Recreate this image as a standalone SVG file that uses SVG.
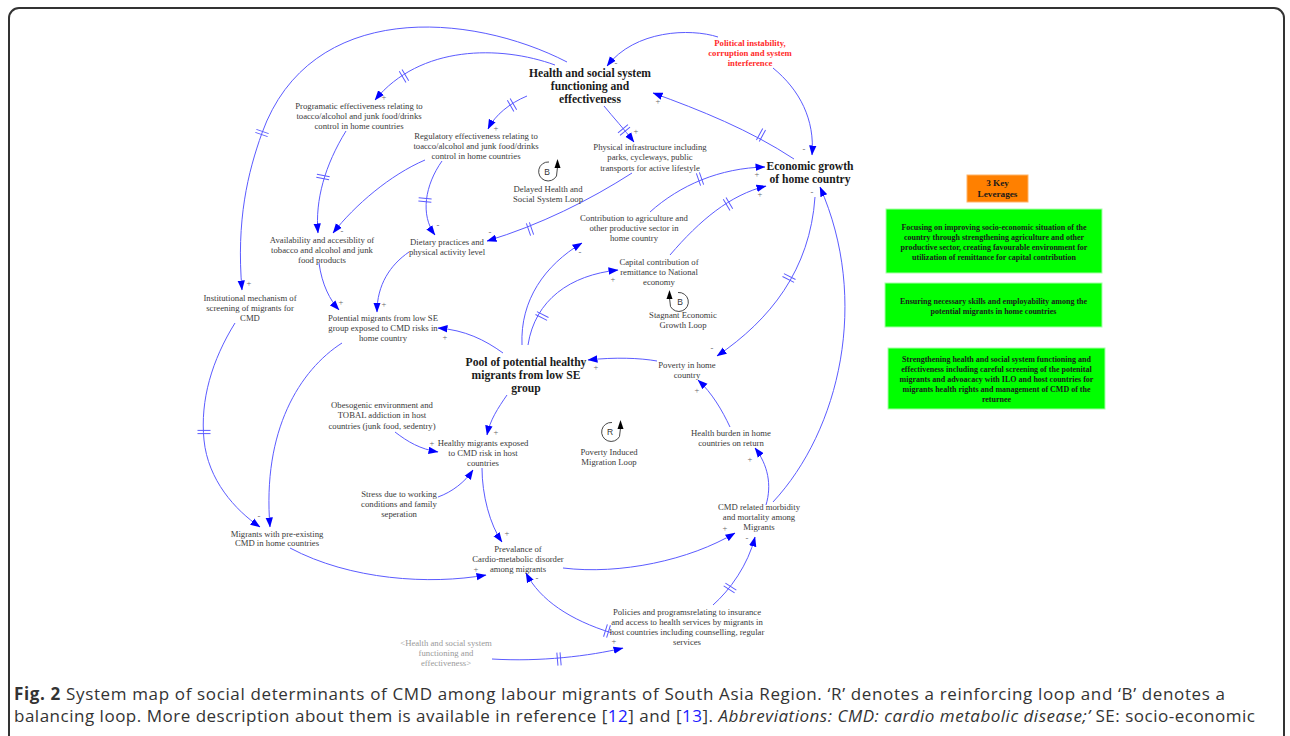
<svg xmlns="http://www.w3.org/2000/svg" xmlns:xlink="http://www.w3.org/1999/xlink" width="1290" height="736" viewBox="0 0 1290 736">
<style>
.ln{fill:none;stroke:#5b5bff;stroke-width:1;marker-end:url(#ah)}
.t{font-family:"Liberation Serif","Times New Roman",serif;font-size:8.7px;fill:#3a3a3a;text-anchor:middle}
.tb{font-family:"Liberation Serif","Times New Roman",serif;font-weight:bold;font-size:11.6px;fill:#1a1a1a;text-anchor:middle}
.tr{font-family:"Liberation Serif","Times New Roman",serif;font-weight:bold;font-size:8.7px;fill:#ff2a2a;text-anchor:middle}
.tg{font-family:"Liberation Serif","Times New Roman",serif;font-size:8.7px;fill:#9a9a9a;text-anchor:middle}
.tl{font-family:"Liberation Serif","Times New Roman",serif;font-weight:bold;font-size:8px;fill:#1a1a1a;text-anchor:middle}
.pol{font-family:"Liberation Serif","Times New Roman",serif;font-size:8.5px;fill:#666;text-anchor:middle}
.loop{fill:none;stroke:#333;stroke-width:0.9}
.lh{fill:#000}
.lt{font-family:"Liberation Sans",Arial,sans-serif;font-size:8.5px;fill:#333;text-anchor:middle}
.cap{font-family:"Open Sans","Noto Sans",sans-serif;font-size:17px;fill:#333}
</style>
<defs>
<marker id="ah" viewBox="0 0 10 8" refX="9.5" refY="4" markerWidth="10" markerHeight="8" markerUnits="userSpaceOnUse" orient="auto">
<path d="M0,0.3 L10,4 L0,7.7 z" fill="#0000ff"/>
</marker>
<path id="dl" d="M-1.6,-6.5 V6.5 M1.6,-6.5 V6.5" stroke="#5b5bff" stroke-width="1" fill="none"/>
</defs>
<rect x="9" y="8" width="1275" height="790" rx="10" fill="#fff" stroke="#333" stroke-width="2"/>

<g id="connectors">
<path class="ln" d="M567,62 C470,12 310,0 262,133 C248,172 236,220 242,290"/>
<path class="ln" d="M555,65 C500,45 420,45 375,100"/>
<path class="ln" d="M527,96 C510,103 495,115 488,129"/>
<path class="ln" d="M604,106 C613,117 624,129 634,142"/>
<path class="ln" d="M718,37 C690,28 635,30 607,66"/>
<path class="ln" d="M773,68 C800,90 815,120 812,155"/>
<path class="ln" d="M794,159 C750,130 700,110 653,93"/>
<path class="ln" d="M522,345 C520,300 545,265 582,243"/>
<path class="ln" d="M650,212 C680,185 720,168 765,167"/>
<path class="ln" d="M528,345 C535,300 570,275 618,270"/>
<path class="ln" d="M670,255 C700,220 730,195 766,186"/>
<path class="ln" d="M815,197 C810,270 770,320 717,356"/>
<path class="ln" d="M657,361 C640,358 615,357 588,360"/>
<path class="ln" d="M730,427 C722,410 712,393 698,380"/>
<path class="ln" d="M766,505 C772,485 768,465 755,448"/>
<path class="ln" d="M773,502 C840,430 870,300 820,187"/>
<path class="ln" d="M503,353 C485,340 465,330 438,328"/>
<path class="ln" d="M507,395 C498,408 490,420 487,435"/>
<path class="ln" d="M395,432 C408,442 420,449 438,452"/>
<path class="ln" d="M438,497 C452,492 465,482 473,470"/>
<path class="ln" d="M482,468 C482,495 490,525 502,542"/>
<path class="ln" d="M563,568 C620,575 690,560 735,533"/>
<path class="ln" d="M713,605 C730,590 748,565 755,537"/>
<path class="ln" d="M612,633 C570,620 540,600 526,573"/>
<path class="ln" d="M492,659 C540,662 590,656 623,648"/>
<path class="ln" d="M290,548 C350,580 430,585 486,575"/>
<path class="ln" d="M235,323 C212,360 200,400 204,440 C208,480 235,510 260,527"/>
<path class="ln" d="M342,343 C300,370 262,430 270,527"/>
<path class="ln" d="M425,160 C390,175 355,205 333,233"/>
<path class="ln" d="M346,131 C325,165 315,200 318,233"/>
<path class="ln" d="M442,161 C425,185 420,215 435,235"/>
<path class="ln" d="M632,173 C590,200 540,225 487,241"/>
<path class="ln" d="M319,263 C322,285 330,300 339,310"/>
<path class="ln" d="M409,252 C390,265 377,285 377,312"/>

<use xlink:href="#dl" transform="translate(262,133) rotate(109)"/>
<use xlink:href="#dl" transform="translate(404,76) rotate(149)"/>
<use xlink:href="#dl" transform="translate(512,105) rotate(150)"/>
<use xlink:href="#dl" transform="translate(624,130) rotate(50)"/>
<use xlink:href="#dl" transform="translate(761,135) rotate(209)"/>
<use xlink:href="#dl" transform="translate(700,179) rotate(-19)"/>
<use xlink:href="#dl" transform="translate(542,316) rotate(-63)"/>
<use xlink:href="#dl" transform="translate(728,204) rotate(-31)"/>
<use xlink:href="#dl" transform="translate(789,278) rotate(117)"/>
<use xlink:href="#dl" transform="translate(730,588) rotate(-57)"/>
<use xlink:href="#dl" transform="translate(607,631) rotate(197)"/>
<use xlink:href="#dl" transform="translate(559,659) rotate(-5)"/>
<use xlink:href="#dl" transform="translate(204,432) rotate(90)"/>
<use xlink:href="#dl" transform="translate(323,177) rotate(101)"/>
<use xlink:href="#dl" transform="translate(425,200) rotate(95)"/>
<use xlink:href="#dl" transform="translate(530,229) rotate(161)"/>

<text class="pol" x="249" y="286">+</text>
<text class="pol" x="384" y="100">+</text>
<text class="pol" x="496" y="131">+</text>
<text class="pol" x="636" y="134">+</text>
<text class="pol" x="616" y="66">-</text>
<text class="pol" x="804" y="152">-</text>
<text class="pol" x="658" y="104">+</text>
<text class="pol" x="580" y="255">-</text>
<text class="pol" x="757" y="177">+</text>
<text class="pol" x="613" y="282">+</text>
<text class="pol" x="760" y="197">+</text>
<text class="pol" x="712" y="351">-</text>
<text class="pol" x="596" y="370">+</text>
<text class="pol" x="697" y="393">+</text>
<text class="pol" x="750" y="462">+</text>
<text class="pol" x="812" y="195">-</text>
<text class="pol" x="445" y="340">+</text>
<text class="pol" x="496" y="435">+</text>
<text class="pol" x="432" y="446">+</text>
<text class="pol" x="507" y="536">+</text>
<text class="pol" x="725" y="531">+</text>
<text class="pol" x="747" y="541">-</text>
<text class="pol" x="537" y="581">-</text>
<text class="pol" x="614" y="644">+</text>
<text class="pol" x="476" y="572">+</text>
<text class="pol" x="259" y="519">-</text>
<text class="pol" x="342" y="234">-</text>
<text class="pol" x="438" y="228">-</text>
<text class="pol" x="490" y="235">-</text>
<text class="pol" x="341" y="305">+</text>
<text class="pol" x="384" y="307">+</text>
</g>

<g id="n-health"><text class="tb"><tspan x="590" y="77">Health and social system</tspan><tspan x="590" y="90">functioning and</tspan><tspan x="590" y="103">effectiveness</tspan></text></g>
<g id="n-political"><text class="tr"><tspan x="750" y="46">Political instability,</tspan><tspan x="750" y="56">corruption and system</tspan><tspan x="750" y="66">interference</tspan></text></g>
<g id="n-econ"><text class="tb"><tspan x="810" y="170">Economic growth</tspan><tspan x="810" y="183">of home country</tspan></text></g>
<g id="n-prog"><text class="t"><tspan x="359" y="109">Programatic effectiveness relating to</tspan><tspan x="359" y="119">toacco/alcohol and junk food/drinks</tspan><tspan x="359" y="129">control in home countries</tspan></text></g>
<g id="n-reg"><text class="t"><tspan x="476" y="139">Regulatory effectiveness relating to</tspan><tspan x="476" y="149">toacco/alcohol and junk food/drinks</tspan><tspan x="476" y="159">control in home countries</tspan></text></g>
<g id="n-phys"><text class="t"><tspan x="650" y="150">Physical infrastructure including</tspan><tspan x="650" y="160">parks, cycleways, public</tspan><tspan x="650" y="171">transports for active lifestyle</tspan></text></g>
<g id="loop-b1">
<path class="loop" d="M549,162 A9.5 9.5 0 1 0 556.5,176 L557.5,167"/>
<path class="lh" d="M554.5,168 L557.5,159 L560.5,168 z"/>
<text class="lt" x="547" y="175">B</text>
<text class="t"><tspan x="548" y="192">Delayed Health and</tspan><tspan x="548" y="202">Social System Loop</tspan></text>
</g>
<g id="n-contrib"><text class="t"><tspan x="634" y="221">Contribution to agriculture and</tspan><tspan x="634" y="231">other productive sector in</tspan><tspan x="634" y="241">home country</tspan></text></g>
<g id="n-capital"><text class="t"><tspan x="659" y="265">Capital contribution of</tspan><tspan x="659" y="275">remittance to National</tspan><tspan x="659" y="285">economy</tspan></text></g>
<g id="loop-b2">
<path class="loop" d="M678,292.5 A9.5 9.5 0 1 1 670.5,306.5 L669.5,298"/>
<path class="lh" d="M666.5,299 L669.5,290 L672.5,299 z"/>
<text class="lt" x="680" y="305">B</text>
<text class="t"><tspan x="683" y="318">Stagnant Economic</tspan><tspan x="683" y="328">Growth Loop</tspan></text>
</g>
<g id="n-avail"><text class="t"><tspan x="322" y="243">Availability and accesiblity of</tspan><tspan x="322" y="253">tobacco and alcohol and junk</tspan><tspan x="322" y="263">food products</tspan></text></g>
<g id="n-diet"><text class="t"><tspan x="447" y="245">Dietary practices and</tspan><tspan x="447" y="255">physical activity level</tspan></text></g>
<g id="n-inst"><text class="t"><tspan x="250" y="301">Institutional mechanism of</tspan><tspan x="250" y="311">screening of migrants for</tspan><tspan x="250" y="321">CMD</tspan></text></g>
<g id="n-potential"><text class="t"><tspan x="383" y="321">Potential migrants from low SE</tspan><tspan x="383" y="331">group exposed to CMD risks in</tspan><tspan x="383" y="341">home country</tspan></text></g>
<g id="n-pool"><text class="tb"><tspan x="526" y="366">Pool of potential healthy</tspan><tspan x="526" y="379">migrants from low SE</tspan><tspan x="526" y="392">group</tspan></text></g>
<g id="n-poverty"><text class="t"><tspan x="687" y="368">Poverty in home</tspan><tspan x="687" y="378">country</tspan></text></g>
<g id="n-obeso"><text class="t"><tspan x="382" y="408">Obesogenic environment and</tspan><tspan x="382" y="418">TOBAL addiction in host</tspan><tspan x="382" y="429">countries (junk food, sedentry)</tspan></text></g>
<g id="n-healthy"><text class="t"><tspan x="483" y="446">Healthy migrants exposed</tspan><tspan x="483" y="456">to CMD risk in host</tspan><tspan x="483" y="466">countries</tspan></text></g>
<g id="loop-r">
<path class="loop" d="M612,422.5 A9.5 9.5 0 1 0 619.5,436.5 L620.5,428"/>
<path class="lh" d="M617.5,429 L620.5,420 L623.5,429 z"/>
<text class="lt" x="610" y="435">R</text>
<text class="t"><tspan x="609" y="455">Poverty Induced</tspan><tspan x="609" y="465">Migration Loop</tspan></text>
</g>
<g id="n-burden"><text class="t"><tspan x="731" y="436">Health burden in home</tspan><tspan x="731" y="446">countries on return</tspan></text></g>
<g id="n-stress"><text class="t"><tspan x="399" y="497">Stress due to working</tspan><tspan x="399" y="507">conditions and family</tspan><tspan x="399" y="517">seperation</tspan></text></g>
<g id="n-cmd"><text class="t"><tspan x="759" y="510">CMD related morbidity</tspan><tspan x="759" y="520">and mortality among</tspan><tspan x="759" y="530">Migrants</tspan></text></g>
<g id="n-preexist"><text class="t"><tspan x="277" y="537">Migrants with pre-existing</tspan><tspan x="277" y="546">CMD in home countries</tspan></text></g>
<g id="n-preval"><text class="t"><tspan x="518" y="552">Prevalance of</tspan><tspan x="518" y="562">Cardio-metabolic disorder</tspan><tspan x="518" y="572">among migrants</tspan></text></g>
<g id="n-policies"><text class="t"><tspan x="687" y="615">Policies and programsrelating to insurance</tspan><tspan x="687" y="625">and access to health services by migrants in</tspan><tspan x="687" y="635">host countries including counselling, regular</tspan><tspan x="687" y="645">services</tspan></text></g>
<g id="n-health-shadow"><text class="tg"><tspan x="446" y="646">&lt;Health and social system</tspan><tspan x="446" y="656">functioning and</tspan><tspan x="446" y="666">effectiveness&gt;</tspan></text></g>

<g id="leverages">
<rect x="967" y="175" width="61" height="27" fill="#ff8000" stroke="#ffb366" stroke-width="1"/>
<text class="tl" style="font-size:9.2px"><tspan x="997.5" y="186">3 Key</tspan><tspan x="997.5" y="197">Leverages</tspan></text>
<rect x="886" y="209" width="216" height="64" fill="#00ff00" stroke="#a6ffa6" stroke-width="1"/>
<text class="tl"><tspan x="994" y="230">Focusing on improving socio-economic situation of the</tspan><tspan x="994" y="240">country through strengthening agriculture and other</tspan><tspan x="994" y="250">productive sector, creating favourable environment for</tspan><tspan x="994" y="260">utilization of remittance for capital contribution</tspan></text>
<rect x="885" y="283" width="217" height="44" fill="#00ff00" stroke="#a6ffa6" stroke-width="1"/>
<text class="tl"><tspan x="993.5" y="304">Ensuring necessary skills and employability among the</tspan><tspan x="993.5" y="314">potential migrants in home countries</tspan></text>
<rect x="888" y="348" width="217" height="61" fill="#00ff00" stroke="#a6ffa6" stroke-width="1"/>
<text class="tl"><tspan x="996.5" y="362">Strengthening health and social system functioning and</tspan><tspan x="996.5" y="372">effectiveness including careful screening of the potenital</tspan><tspan x="996.5" y="382">migrants and advoacacy with ILO and host countries for</tspan><tspan x="996.5" y="392">migrants health rights and management of CMD of the</tspan><tspan x="996.5" y="402">returnee</tspan></text>
</g>

<g id="caption">
<text class="cap" x="14" y="700" textLength="1211" lengthAdjust="spacing"><tspan font-weight="bold">Fig. 2</tspan> System map of social determinants of CMD among labour migrants of South Asia Region. ‘R’ denotes a reinforcing loop and ‘B’ denotes a</text>
<text class="cap" x="14" y="722" textLength="1241" lengthAdjust="spacing">balancing loop. More description about them is available in reference [<tspan fill="#1a1aff">12</tspan>] and [<tspan fill="#1a1aff">13</tspan>]. <tspan font-style="italic">Abbreviations: CMD: cardio metabolic disease;’</tspan> SE: socio-economic</text>
</g>
</svg>
